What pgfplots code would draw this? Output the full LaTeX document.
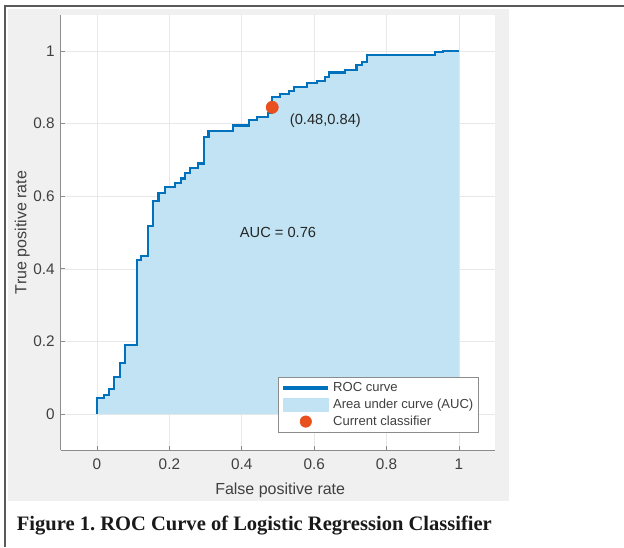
\documentclass[border=0pt]{standalone}
\usepackage{pgfplots}
\pgfplotsset{compat=1.18}
\usepackage{pgfplotstable}
\usepackage{fontspec}
\setmainfont{Liberation Sans}
\newfontfamily\capfont{Liberation Serif}

\definecolor{roc}{HTML}{0072BD}
\definecolor{aucfill}{RGB}{193,227,243}
\definecolor{dot}{HTML}{E8501E}
\definecolor{panel}{HTML}{F0F0F0}
\definecolor{txt}{HTML}{404040}

% ROC curve (staircase corners)
\pgfplotstableread{
fpr tpr
0 0
0 0.043
0.019 0.043
0.019 0.053
0.033 0.053
0.033 0.069
0.047 0.069
0.047 0.101
0.063 0.101
0.063 0.140
0.078 0.140
0.078 0.189
0.110 0.189
0.110 0.424
0.121 0.424
0.121 0.435
0.140 0.435
0.140 0.517
0.155 0.517
0.155 0.588
0.170 0.588
0.170 0.610
0.188 0.610
0.188 0.626
0.215 0.626
0.215 0.637
0.231 0.637
0.231 0.649
0.243 0.649
0.243 0.663
0.258 0.663
0.258 0.677
0.280 0.677
0.280 0.690
0.296 0.690
0.296 0.764
0.308 0.764
0.308 0.780
0.375 0.780
0.375 0.795
0.420 0.795
0.420 0.810
0.441 0.810
0.441 0.819
0.472 0.819
0.472 0.830
0.484 0.830
0.484 0.874
0.505 0.874
0.505 0.882
0.530 0.882
0.530 0.891
0.545 0.891
0.545 0.900
0.579 0.900
0.579 0.911
0.607 0.911
0.607 0.917
0.630 0.917
0.630 0.929
0.642 0.929
0.642 0.941
0.685 0.941
0.685 0.948
0.717 0.948
0.717 0.961
0.731 0.961
0.731 0.970
0.745 0.970
0.745 0.990
0.934 0.990
0.934 0.998
0.955 0.998
0.955 1.000
1.000 1.000
}\roc

\begin{document}
\begin{tikzpicture}
\useasboundingbox (0pt,0pt) rectangle (468pt,410.25pt);
% page frame and figure panel
\fill[panel] (6pt,34.5pt) rectangle (381.75pt,403.5pt);
\draw[line width=1pt, black!65] (3.75pt,0pt) -- (3.75pt,405.75pt) -- (468pt,405.75pt);

\begin{axis}[
  at={(45.6pt,72.5pt)}, anchor=south west,
  scale only axis, width=325.8pt, height=326.7pt,
  xmin=-0.1, xmax=1.1, ymin=-0.1, ymax=1.1,
  xtick={0,0.2,0.4,0.6,0.8,1}, ytick={0,0.2,0.4,0.6,0.8,1},
  axis x line*=bottom, axis y line*=left,
  axis line style={-, draw=black!45, line width=0.8pt},
  axis background/.style={fill=white},
  grid=major, grid style={black!9, line width=0.5pt},
  tick align=inside, major tick length=3pt,
  tick style={black!45, line width=0.6pt},
  tick label style={font=\fontsize{11.5}{13}\selectfont, text=txt},
  xticklabel style={yshift=-3pt},
  yticklabel style={xshift=-1pt},
  /pgf/number format/assume math mode=true,
  xlabel={False positive rate}, ylabel={True positive rate},
  label style={font=\fontsize{12}{14}\selectfont, text=txt},
  xlabel style={at={(axis description cs:0.505,-0.091)}, anchor=center},
  ylabel style={at={(axis description cs:-0.089,0.5)}, anchor=center},
  legend style={at={(axis cs:1.055,-0.052)}, anchor=south east,
    draw=black!45, fill=white, font=\fontsize{9.8}{11}\selectfont,
    text=txt, row sep=0pt, inner sep=2pt, cells={anchor=west}},
]
\addplot[fill=aucfill, draw=none, forget plot] table[x=fpr, y=tpr] {\roc} \closedcycle;
\addplot[roc, line width=1.6pt, forget plot] table[x=fpr, y=tpr] {\roc};
\addplot[only marks, mark=*, mark size=4.6pt, color=dot, forget plot] coordinates {(0.484,0.845)};

\addlegendimage{legend image code/.code={\draw[roc, line width=3pt] (0pt,0pt) -- (34pt,0pt);}}
\addlegendentry{ROC curve}
\addlegendimage{legend image code/.code={\fill[aucfill] (0pt,-5pt) rectangle (34pt,5pt);}}
\addlegendentry{Area under curve (AUC)}
\addlegendimage{legend image code/.code={\fill[dot] (17pt,0pt) circle (4.3pt);}}
\addlegendentry{Current classifier}

\node[font=\fontsize{11}{13}\selectfont, text=black!85] at (axis cs:0.5,0.5) {AUC = 0.76};
\node[font=\fontsize{11}{13}\selectfont, text=black!85, anchor=west] at (axis cs:0.52,0.808) {(0.48,0.84)};
\end{axis}

\node[anchor=base west, inner sep=0pt, font=\capfont\bfseries\fontsize{15.4}{17}\selectfont, text=black!90]
  at (12.5pt,12.2pt) {Figure 1.\ ROC Curve of Logistic Regression Classifier};
\end{tikzpicture}
\end{document}
